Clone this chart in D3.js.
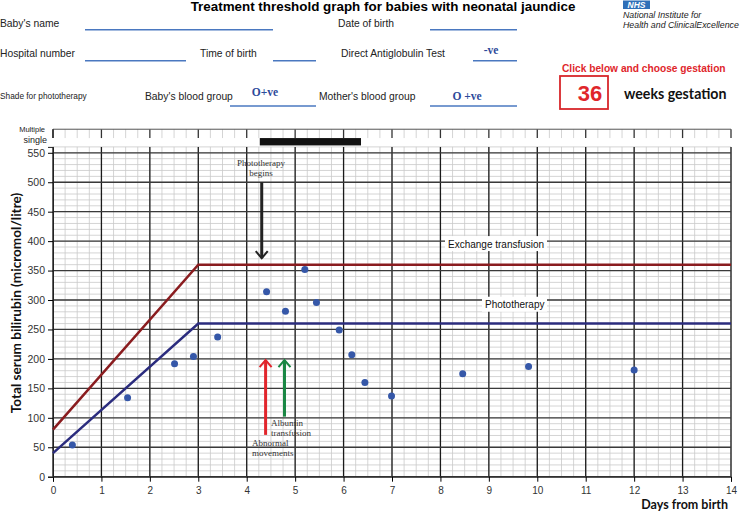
<!DOCTYPE html>
<html>
<head>
<meta charset="utf-8">
<script src="https://cdnjs.cloudflare.com/ajax/libs/d3/7.8.5/d3.min.js"></script>
<style>
  body { margin: 0; background: #fff; }
  svg { display: block; }
</style>
</head>
<body>
<div id="chart"></div>
<script>
// Threshold lines for 36 weeks gestation (day, micromol/litre)
var thresholdDays = [0, 3, 14];
var phototherapyLevel = [40, 260, 260];
var exchangeLevel = [80, 360, 360];

// Measured serum bilirubin
var sampleDays = [0.4, 1.54, 2.51, 2.9, 3.4, 4.41, 4.8, 5.2, 5.44, 5.91, 6.17, 6.44, 6.99, 8.46, 9.82, 12.0];
var sampleSBR = [54, 134, 192, 204, 237, 314, 281, 352, 296, 249, 207, 160, 137, 175, 187, 181];

// Phototherapy bar (single), start and end day
var singlePhoto = [4.27, 6.36];

// Annotation arrows: day, from level, to level
var photoBegins = {day: 4.31, from: 500, to: 371};
var abnormalMove = {day: 4.39, from: 71, to: 198};
var albumin = {day: 4.78, from: 102, to: 198};

var xTicks = d3.range(0, 15, 1);
var yTicks = d3.range(0, 551, 50);

var W = 750, H = 512;
var sans = "'Liberation Sans', Arial, sans-serif";
var serif = "'Liberation Serif', 'Times New Roman', serif";
var lato = "Lato, 'Liberation Sans', sans-serif";
var formBlue = "#4a78c0";

var svg = d3.select("#chart").append("svg")
    .attr("width", W)
    .attr("height", H);

var x = d3.scaleLinear().domain([0, 14]).range([53, 731]);
var y = d3.scaleLinear().domain([0, 560]).range([476.7, 146.9]);

/* ---------- form header ---------- */
svg.append("text")
    .attr("x", 383).attr("y", 11)
    .attr("text-anchor", "middle")
    .style("font-family", sans).style("font-weight", "bold").style("font-size", "13.4px")
    .text("Treatment threshold graph for babies with neonatal jaundice");

function formLabel(tx, ty, txt, size) {
    svg.append("text")
        .attr("x", tx).attr("y", ty)
        .style("font-family", sans).style("font-size", (size || 10.3) + "px")
        .style("fill", "#222")
        .text(txt);
}
function formLine(x1, x2, ly) {
    svg.append("line")
        .attr("x1", x1).attr("x2", x2).attr("y1", ly).attr("y2", ly)
        .style("stroke", formBlue).style("stroke-width", 1.5);
}
function formValue(tx, ty, txt) {
    svg.append("text")
        .attr("x", tx).attr("y", ty)
        .attr("text-anchor", "middle")
        .style("font-family", serif).style("font-weight", "bold").style("font-size", "11.5px")
        .style("fill", "#2d4a9a")
        .text(txt);
}

formLabel(0, 26.5, "Baby's name");
formLine(85, 273, 29.7);
formLabel(338, 26.5, "Date of birth");
formLine(430, 517, 29.7);

formLabel(0, 56.5, "Hospital number");
formLine(85, 186, 60.7);
formLabel(200, 56.5, "Time of birth");
formLine(273, 316, 60.7);
formLabel(341, 56.5, "Direct Antiglobulin Test");
formValue(491, 54, "-ve");
formLine(473, 517, 60.7);

formLabel(0, 99, "Shade for phototherapy", 8.3);
formLabel(145, 99.5, "Baby's blood group");
formValue(265, 96, "O+ve");
formLine(230, 316, 106);
formLabel(319, 99.5, "Mother's blood group");
formValue(467, 100, "O +ve");
formLine(430, 517, 106);

// NHS logo block
svg.append("rect")
    .attr("x", 623).attr("y", 0.5).attr("width", 27).attr("height", 8.5)
    .style("fill", "#2f6fb8");
svg.append("text")
    .attr("x", 636.5).attr("y", 8)
    .attr("text-anchor", "middle")
    .style("font-family", sans).style("font-weight", "bold").style("font-style", "italic")
    .style("font-size", "8.5px").style("fill", "#fff")
    .text("NHS");
svg.append("text")
    .attr("x", 623).attr("y", 18)
    .style("font-family", sans).style("font-style", "italic").style("font-size", "8.8px").style("fill", "#222")
    .text("National Institute for");
svg.append("text")
    .attr("x", 623).attr("y", 28)
    .style("font-family", sans).style("font-style", "italic").style("font-size", "8.8px").style("fill", "#222")
    .text("Health and ClinicalExcellence");

// gestation selector
svg.append("text")
    .attr("x", 562).attr("y", 72)
    .style("font-family", sans).style("font-weight", "bold").style("font-size", "10.2px")
    .style("fill", "#e0262b")
    .text("Click below and choose gestation");
svg.append("rect")
    .attr("x", 560).attr("y", 76).attr("width", 48).attr("height", 33)
    .style("fill", "#fff").style("stroke", "#d8262b").style("stroke-width", 1.8);
svg.append("text")
    .attr("x", 590).attr("y", 101)
    .attr("text-anchor", "middle")
    .style("font-family", sans).style("font-weight", "bold").style("font-size", "22px")
    .style("fill", "#e0262b")
    .text("36");
svg.append("text")
    .attr("x", 624).attr("y", 99)
    .style("font-family", lato).style("font-weight", "bold").style("font-size", "14.2px")
    .style("fill", "#111")
    .text("weeks gestation");

/* ---------- grid ---------- */
var grid = svg.append("g");

// minor grid lines
var minorX = d3.range(0, 14.001, 0.25);
var minorY = d3.range(0, 561, 10);
grid.selectAll(".mx").data(minorX).enter().append("line")
    .attr("x1", function(d) { return x(d); }).attr("x2", function(d) { return x(d); })
    .attr("y1", y(560)).attr("y2", y(0))
    .style("stroke", "#c9c9c9").style("stroke-width", 0.8);
grid.selectAll(".my").data(minorY).enter().append("line")
    .attr("x1", x(0)).attr("x2", x(14))
    .attr("y1", function(d) { return y(d); }).attr("y2", function(d) { return y(d); })
    .style("stroke", "#c9c9c9").style("stroke-width", 0.8);

// top strip for multiple / single phototherapy
grid.selectAll(".sx").data(minorX).enter().append("line")
    .attr("x1", function(d) { return x(d); }).attr("x2", function(d) { return x(d); })
    .attr("y1", y(590)).attr("y2", y(575))
    .style("stroke", function(d) { return d % 1 === 0 ? "#333" : "#c9c9c9"; })
    .style("stroke-width", function(d) { return d % 1 === 0 ? 1.3 : 0.8; });
grid.append("line")
    .attr("x1", x(0)).attr("x2", x(14)).attr("y1", y(590)).attr("y2", y(590))
    .style("stroke", "#555").style("stroke-width", 1);

// major grid lines
grid.selectAll(".Mx").data(xTicks).enter().append("line")
    .attr("x1", function(d) { return x(d); }).attr("x2", function(d) { return x(d); })
    .attr("y1", y(560)).attr("y2", y(0))
    .style("stroke", "#1a1a1a").style("stroke-width", 1.3);
grid.selectAll(".My").data(yTicks).enter().append("line")
    .attr("x1", x(0)).attr("x2", x(14))
    .attr("y1", function(d) { return y(d); }).attr("y2", function(d) { return y(d); })
    .style("stroke", "#3a3a3a").style("stroke-width", 1.3);

svg.append("line")
    .attr("x1", x(0)).attr("x2", x(0)).attr("y1", y(590)).attr("y2", y(575))
    .style("stroke", "#222").style("stroke-width", 1.3);

// phototherapy bar
svg.append("rect")
    .attr("x", x(singlePhoto[0])).attr("width", x(singlePhoto[1]) - x(singlePhoto[0]))
    .attr("y", y(575)).attr("height", y(562.5) - y(575))
    .style("fill", "#111");

svg.append("text")
    .attr("x", 45).attr("y", 132)
    .attr("text-anchor", "end")
    .style("font-family", sans).style("font-size", "7.5px").style("fill", "#222")
    .text("Multiple");
svg.append("text")
    .attr("x", 47).attr("y", 142.5)
    .attr("text-anchor", "end")
    .style("font-family", sans).style("font-size", "9px").style("fill", "#222")
    .text("single");

/* ---------- axes ---------- */
var xAxis = d3.axisBottom(x).tickValues(xTicks).tickSize(5).tickFormat(d3.format("d"));
var gx = svg.append("g").attr("transform", "translate(0," + y(0) + ")").call(xAxis);
gx.select(".domain").style("stroke", "#222");
gx.selectAll("text").style("font-family", sans).style("font-size", "10px").style("fill", "#333").attr("dy", "0.9em");

var yAxis = d3.axisLeft(y).tickValues(yTicks).tickSize(5).tickFormat(d3.format("d"));
var gy = svg.append("g").attr("transform", "translate(" + x(0) + ",0)").call(yAxis);
gy.select(".domain").style("stroke", "#222");
gy.selectAll("text").style("font-family", sans).style("font-size", "10.5px").style("fill", "#333");

svg.append("text")
    .attr("transform", "translate(21,303) rotate(-90)")
    .attr("text-anchor", "middle")
    .style("font-family", lato).style("font-weight", "bold").style("font-size", "13.6px")
    .style("fill", "#111")
    .text("Total serum bilirubin  (micromol/litre)");
svg.append("text")
    .attr("x", 728).attr("y", 509)
    .attr("text-anchor", "end")
    .style("font-family", lato).style("font-weight", "bold").style("font-size", "12.5px")
    .style("fill", "#111")
    .text("Days from birth");

/* ---------- thresholds ---------- */
var lineGen = d3.line()
    .x(function(d) { return x(d[0]); })
    .y(function(d) { return y(d[1]); });

svg.append("path")
    .attr("d", lineGen(d3.zip(thresholdDays, exchangeLevel)))
    .style("fill", "none").style("stroke", "#8a1c1f").style("stroke-width", 2.5);
svg.append("path")
    .attr("d", lineGen(d3.zip(thresholdDays, phototherapyLevel)))
    .style("fill", "none").style("stroke", "#2b2c7e").style("stroke-width", 2.5);

// white-backed labels
function boxLabel(bx, by, bw, txt) {
    svg.append("rect")
        .attr("x", bx).attr("y", by - 8).attr("width", bw).attr("height", 15)
        .style("fill", "#fff");
    svg.append("text")
        .attr("x", bx + 3).attr("y", by + 3.5)
        .style("font-family", sans).style("font-size", "10px").style("fill", "#111")
        .text(txt);
}
boxLabel(445, y(395), 102, "Exchange transfusion");
boxLabel(482, y(292), 65, "Phototherapy");

/* ---------- measurements ---------- */
svg.selectAll(".pt").data(d3.zip(sampleDays, sampleSBR)).enter().append("circle")
    .attr("cx", function(d) { return x(d[0]); })
    .attr("cy", function(d) { return y(d[1]); })
    .attr("r", 3.5)
    .style("fill", "#3557a8");

/* ---------- annotations ---------- */
function arrow(a, color, width) {
    var ax = x(a.day);
    var tipY = y(a.to);
    var dir = a.to > a.from ? 1 : -1; // up = 1
    svg.append("line")
        .attr("x1", ax).attr("x2", ax).attr("y1", y(a.from)).attr("y2", tipY)
        .style("stroke", color).style("stroke-width", width);
    svg.append("path")
        .attr("d", "M" + (ax - 6) + "," + (tipY + dir * 7) + "L" + ax + "," + tipY + "L" + (ax + 6) + "," + (tipY + dir * 7))
        .style("fill", "none").style("stroke", color).style("stroke-width", 2);
}
arrow(photoBegins, "#222", 3);
arrow(abnormalMove, "#e1252c", 3);
arrow(albumin, "#1a8744", 3);

function note(tx, ty, lines, anchor) {
    var t = svg.append("text")
        .attr("x", tx).attr("y", ty)
        .attr("text-anchor", anchor)
        .style("font-family", serif).style("font-size", "9px").style("fill", "#333");
    lines.forEach(function(s, i) {
        t.append("tspan").attr("x", tx).attr("dy", i === 0 ? 0 : "1.1em").text(s);
    });
}
note(261, 166, ["Phototherapy", "begins"], "middle");
note(271, 426, ["Albumin", "transfusion"], "start");
note(252, 446, ["Abnormal", "movements"], "start");
</script>
</body>
</html>
